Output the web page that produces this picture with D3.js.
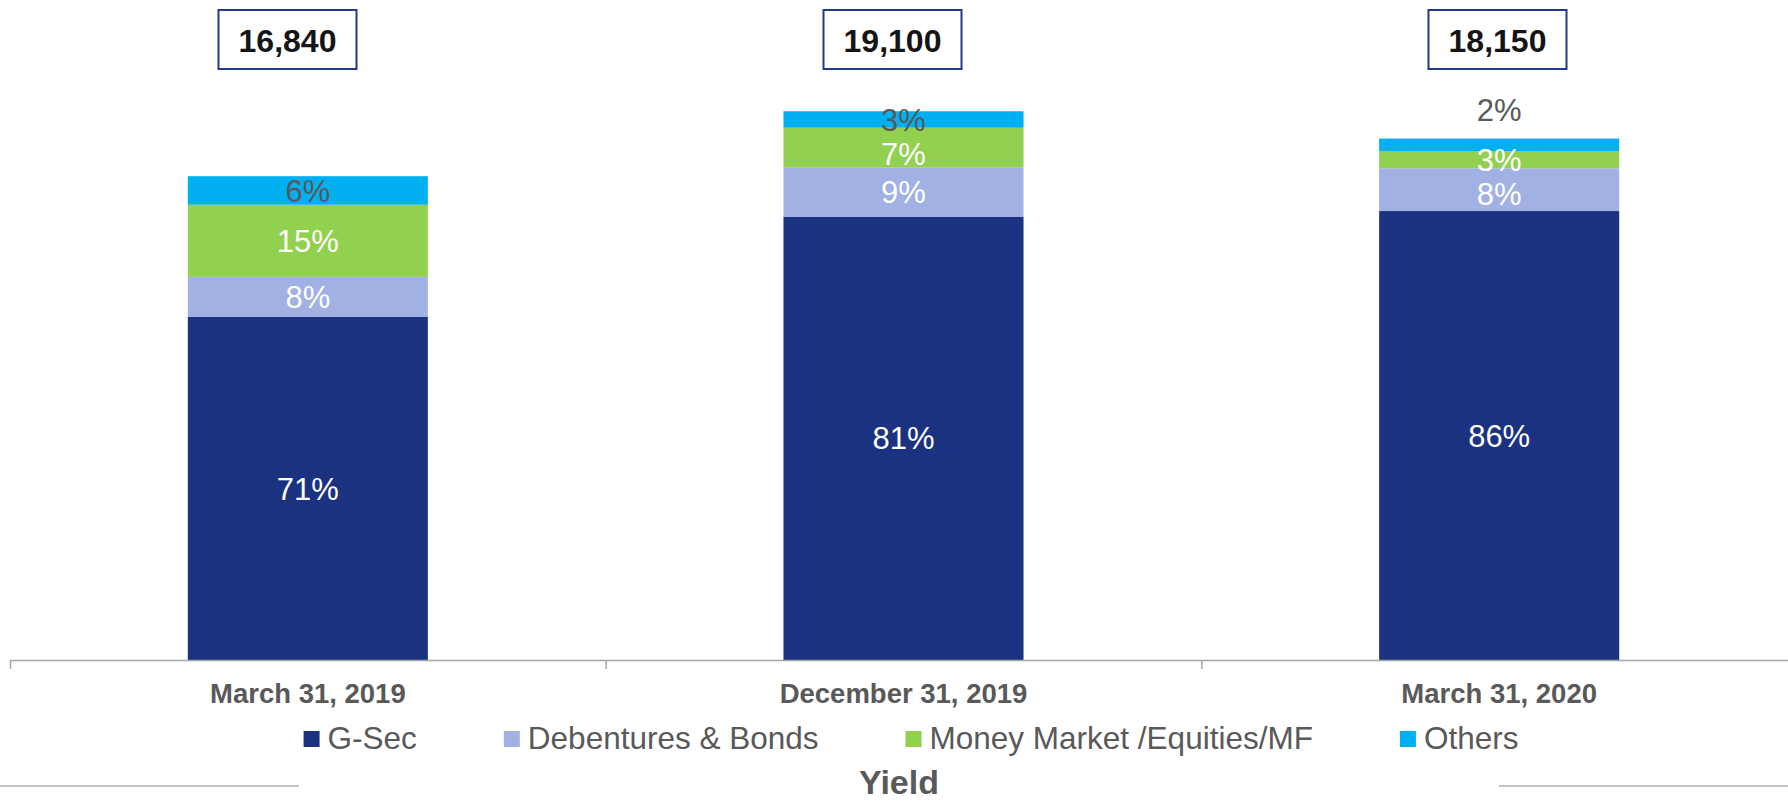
<!DOCTYPE html>
<html>
<head>
<meta charset="utf-8">
<script src="https://cdn.jsdelivr.net/npm/d3@7"></script>
<style>
  html, body { margin: 0; padding: 0; background: #fff; }
  svg { display: block; font-family: "Liberation Sans", Arial, sans-serif; }
</style>
</head>
<body>
<div class="stackchart"></div>
<script>
// data
const categories = ['March 31, 2019', 'December 31, 2019', 'March 31, 2020'];
const totals = [16840, 19100, 18150];
const seriesNames = ['G-Sec', 'Debentures & Bonds', 'Money Market /Equities/MF', 'Others'];
const gsec = [70.9, 80.8, 86.1];
const debentures = [8.3, 9.0, 8.2];
const moneyMarket = [14.9, 7.2, 3.3];
const others = [5.9, 3.0, 2.4];
const colors = ['#1B3281', '#A1B1E3', '#92D050', '#00B0F0'];

const W = 1788, H = 802;
const base = 660;
const grey = '#595959';
const minGap = 34;

const shares = [gsec, debentures, moneyMarket, others];
const rows = categories.map((c, i) => {
  let r = {cat: c, total: totals[i]};
  seriesNames.forEach((s, k) => { r[s] = totals[i] * shares[k][i] / 100; r[s + '_pct'] = shares[k][i]; });
  return r;
});

const svg = d3.select('.stackchart').append('svg')
  .attr('width', W)
  .attr('height', H);

const x = d3.scaleBand()
  .domain(categories)
  .range([10, 1797])
  .paddingInner(0.597)
  .paddingOuter(0.2985);

const y = d3.scaleLinear()
  .domain([0, 20000])
  .range([base, 85.4]);

// boxes for the totals sit on their own spacing
const xBox = d3.scaleBand()
  .domain(categories)
  .range([-15, 1800]);

const stack = d3.stack().keys(seriesNames)(rows);

const layers = svg.selectAll('.layer')
  .data(stack)
  .enter().append('g')
    .attr('class', 'layer')
    .attr('fill', (d, i) => colors[i]);

layers.selectAll('rect')
  .data(d => d)
  .enter().append('rect')
    .attr('x', d => x(d.data.cat))
    .attr('width', x.bandwidth())
    .attr('y', d => y(d[1]))
    .attr('height', d => y(d[0]) - y(d[1]));

// segment labels, worked out top-down per bar so they don't collide
let labels = [];
categories.forEach((c, i) => {
  let prev = -Infinity;
  for (let k = stack.length - 1; k >= 0; k--) {
    let d = stack[k][i];
    let hgt = y(d[0]) - y(d[1]);
    let ly = (y(d[0]) + y(d[1])) / 2;
    // tiny top segment: label goes above the bar
    if (k == stack.length - 1 && hgt < 15) ly = y(d[1]) - 29;
    if (ly - prev < minGap) ly = prev + minGap;
    prev = ly;
    labels.push({
      x: x(c) + x.bandwidth() / 2,
      y: ly,
      fill: k == stack.length - 1 ? grey : '#fff',
      text: Math.round(d.data[seriesNames[k] + '_pct']) + '%'
    });
  }
});

svg.append('g').selectAll('text')
  .data(labels)
  .enter().append('text')
    .attr('x', d => d.x)
    .attr('y', d => d.y)
    .attr('dy', '0.36em')
    .attr('text-anchor', 'middle')
    .attr('font-size', 31)
    .attr('fill', d => d.fill)
    .text(d => d.text);

// axis line with ticks between categories
const xEdge = d3.scaleLinear().domain([0, categories.length]).range([10, 1797]);
svg.append('g')
  .attr('class', 'x axis')
  .attr('transform', `translate(0, ${base})`)
  .call(d3.axisBottom(xEdge).tickValues(d3.range(0, categories.length + 1)).tickSize(9).tickSizeOuter(0).tickFormat(''))
  .call(g => g.selectAll('line, path').attr('stroke', '#A6A6A6').attr('stroke-width', 1.5));

// category labels
svg.append('g')
  .attr('transform', `translate(0, ${base})`)
  .call(d3.axisBottom(x).tickSize(0).tickPadding(23.5))
  .call(g => g.select('.domain').remove())
  .call(g => g.selectAll('text')
    .attr('font-family', '"Liberation Sans", Arial, sans-serif')
    .attr('font-size', 27.5)
    .attr('font-weight', 'bold')
    .attr('fill', grey));

// total boxes
const boxW = 138, boxH = 59;
const boxes = svg.selectAll('.total')
  .data(rows)
  .enter().append('g')
    .attr('class', 'total')
    .attr('transform', d => `translate(${xBox(d.cat) + xBox.bandwidth() / 2}, 10)`);

boxes.append('rect')
  .attr('x', -boxW / 2)
  .attr('width', boxW)
  .attr('height', boxH)
  .attr('fill', '#fff')
  .attr('stroke', '#23398A')
  .attr('stroke-width', 2);

boxes.append('text')
  .attr('y', 42)
  .attr('text-anchor', 'middle')
  .attr('font-size', 32)
  .attr('font-weight', 'bold')
  .attr('fill', '#151515')
  .text(d => d3.format(',')(d.total));

// legend
const legend = svg.append('g').attr('class', 'legend');
let lx = 0;
seriesNames.forEach((s, i) => {
  let item = legend.append('g').attr('transform', `translate(${lx}, 0)`);
  item.append('rect')
    .attr('y', 731)
    .attr('width', 16)
    .attr('height', 16)
    .attr('fill', colors[i]);
  let t = item.append('text')
    .attr('x', 24)
    .attr('y', 749)
    .attr('font-size', 31.5)
    .attr('fill', grey)
    .text(s);
  lx += 24 + t.node().getComputedTextLength() + 87;
});
let legendW = lx - 87;
legend.attr('transform', `translate(${911 - legendW / 2}, 0)`);

// title with side rules
svg.append('text')
  .attr('x', 899)
  .attr('y', 794)
  .attr('text-anchor', 'middle')
  .attr('font-size', 34)
  .attr('font-weight', 'bold')
  .attr('fill', grey)
  .text('Yield');

svg.append('line')
  .attr('x1', 0).attr('x2', 299)
  .attr('y1', 786).attr('y2', 786)
  .attr('stroke', '#C6C2BC').attr('stroke-width', 2);

svg.append('line')
  .attr('x1', 1499).attr('x2', W)
  .attr('y1', 786).attr('y2', 786)
  .attr('stroke', '#C6C2BC').attr('stroke-width', 2);
</script>
</body>
</html>
